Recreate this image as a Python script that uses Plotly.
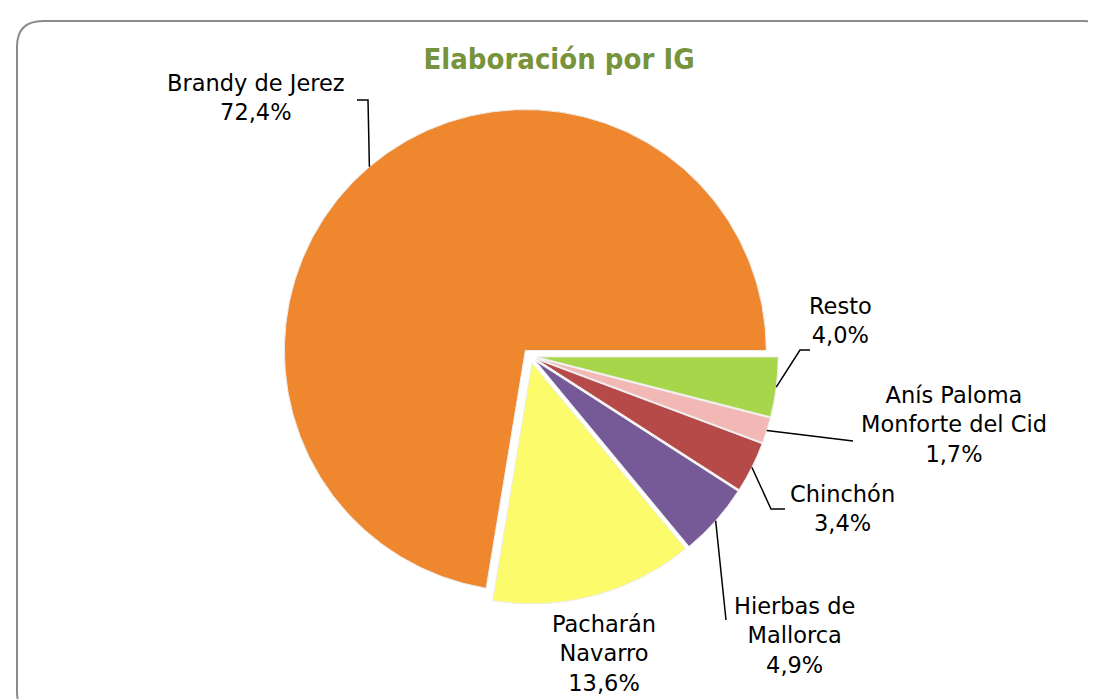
import math
import plotly.graph_objects as go

# ---- data ----
categories = ["Resto", "Anís Paloma<br>Monforte del Cid", "Chinchón",
              "Hierbas de<br>Mallorca", "Pacharán<br>Navarro", "Brandy de Jerez"]
shares = [4.0, 1.7, 3.4, 4.9, 13.6, 72.4]
colors = ["#A8D64A", "#F2B8B6", "#B54A48", "#755A97", "#FBFB6C", "#EE872E"]
title_text = "Elaboración por IG"

W, H = 1096, 699
PULL = 0.03
CX, CY = 522, 348          # pie centre (px)
HALF = 248.2               # half domain size (px)
R = HALF / (1 + PULL)      # plotly pie radius

def px(x, y):
    return x / W, 1 - y / H

# label layout (text block centre in px, connector points after the slice edge)
label_layout = [
    dict(c=(832, 312), path=[(792, 342), (802, 342)]),
    dict(c=(946, 417), path=[(845, 433)]),
    dict(c=(834, 500), path=[(763, 501), (777, 501)]),
    dict(c=(786, 627), path=[(718, 612)]),
    dict(c=(596, 645), path=None),
    dict(c=(248, 90), path=[(360, 92), (349, 92)]),
]

fig = go.Figure(go.Pie(
    labels=[c.replace("<br>", " ") for c in categories],
    values=shares,
    sort=False,
    direction="clockwise",
    rotation=90,
    pull=[PULL] * len(shares),
    marker=dict(colors=colors, line=dict(color="#EDEDED", width=1)),
    textinfo="none",
    hoverinfo="label+percent",
    showlegend=False,
    domain=dict(x=[(CX - HALF) / W, (CX + HALF) / W],
                y=[(H - CY - HALF) / H, (H - CY + HALF) / H]),
))

annotations = []
shapes = []
total = sum(shares)
cum = 0.0
for val, cat, lay in zip(shares, categories, label_layout):
    mid = (cum + val / 2) / total * 360.0   # clockwise from 3 o'clock (screen)
    cum += val
    a = math.radians(mid)
    sx = CX + PULL * R * math.cos(a)
    sy = CY + PULL * R * math.sin(a)
    ex = sx + R * math.cos(a)
    ey = sy + R * math.sin(a)
    txt = f"{cat}<br>{val:.1f}%".replace(".", ",")
    cx, cy = lay["c"]
    X, Y = px(cx, cy)
    annotations.append(dict(text=txt, x=X, y=Y, xref="paper", yref="paper",
                            xanchor="center", yanchor="middle", showarrow=False,
                            font=dict(family="DejaVu Sans", size=22.5, color="#000000"),
                            align="center"))
    if lay["path"]:
        pts = [(ex, ey)] + lay["path"]
        d = ""
        for i, (x, y) in enumerate(pts):
            p = px(x, y)
            d += ("M" if i == 0 else "L") + f"{p[0]:.5f},{p[1]:.5f} "
        shapes.append(dict(type="path", path=d.strip(), xref="paper", yref="paper",
                           line=dict(color="#000000", width=1.5)))

# rounded frame
x0, y0, x1, y1, rr = 9, 13, 1102, 710, 26
def P(x, y):
    a, b = px(x, y)
    return f"{a:.5f},{b:.5f}"
frame = (f"M{P(x0 + rr, y0)} L{P(x1 - rr, y0)} Q{P(x1, y0)} {P(x1, y0 + rr)} "
         f"L{P(x1, y1 - rr)} Q{P(x1, y1)} {P(x1 - rr, y1)} L{P(x0 + rr, y1)} "
         f"Q{P(x0, y1)} {P(x0, y1 - rr)} L{P(x0, y0 + rr)} Q{P(x0, y0)} {P(x0 + rr, y0)} Z")
shapes.append(dict(type="path", path=frame, xref="paper", yref="paper",
                   line=dict(color="#8C8C8C", width=2), layer="below"))

fig.update_layout(
    width=W, height=H,
    margin=dict(l=0, r=0, t=0, b=0),
    paper_bgcolor="#FFFFFF",
    plot_bgcolor="#FFFFFF",
    title=dict(text=f"<b>{title_text}</b>", x=551 / W, xanchor="center",
               y=1 - 51 / H, yanchor="middle",
               font=dict(family="DejaVu Sans Condensed, DejaVu Sans", size=29, color="#77933C")),
    annotations=annotations,
    shapes=shapes,
)

fig.write_html("out.html")
